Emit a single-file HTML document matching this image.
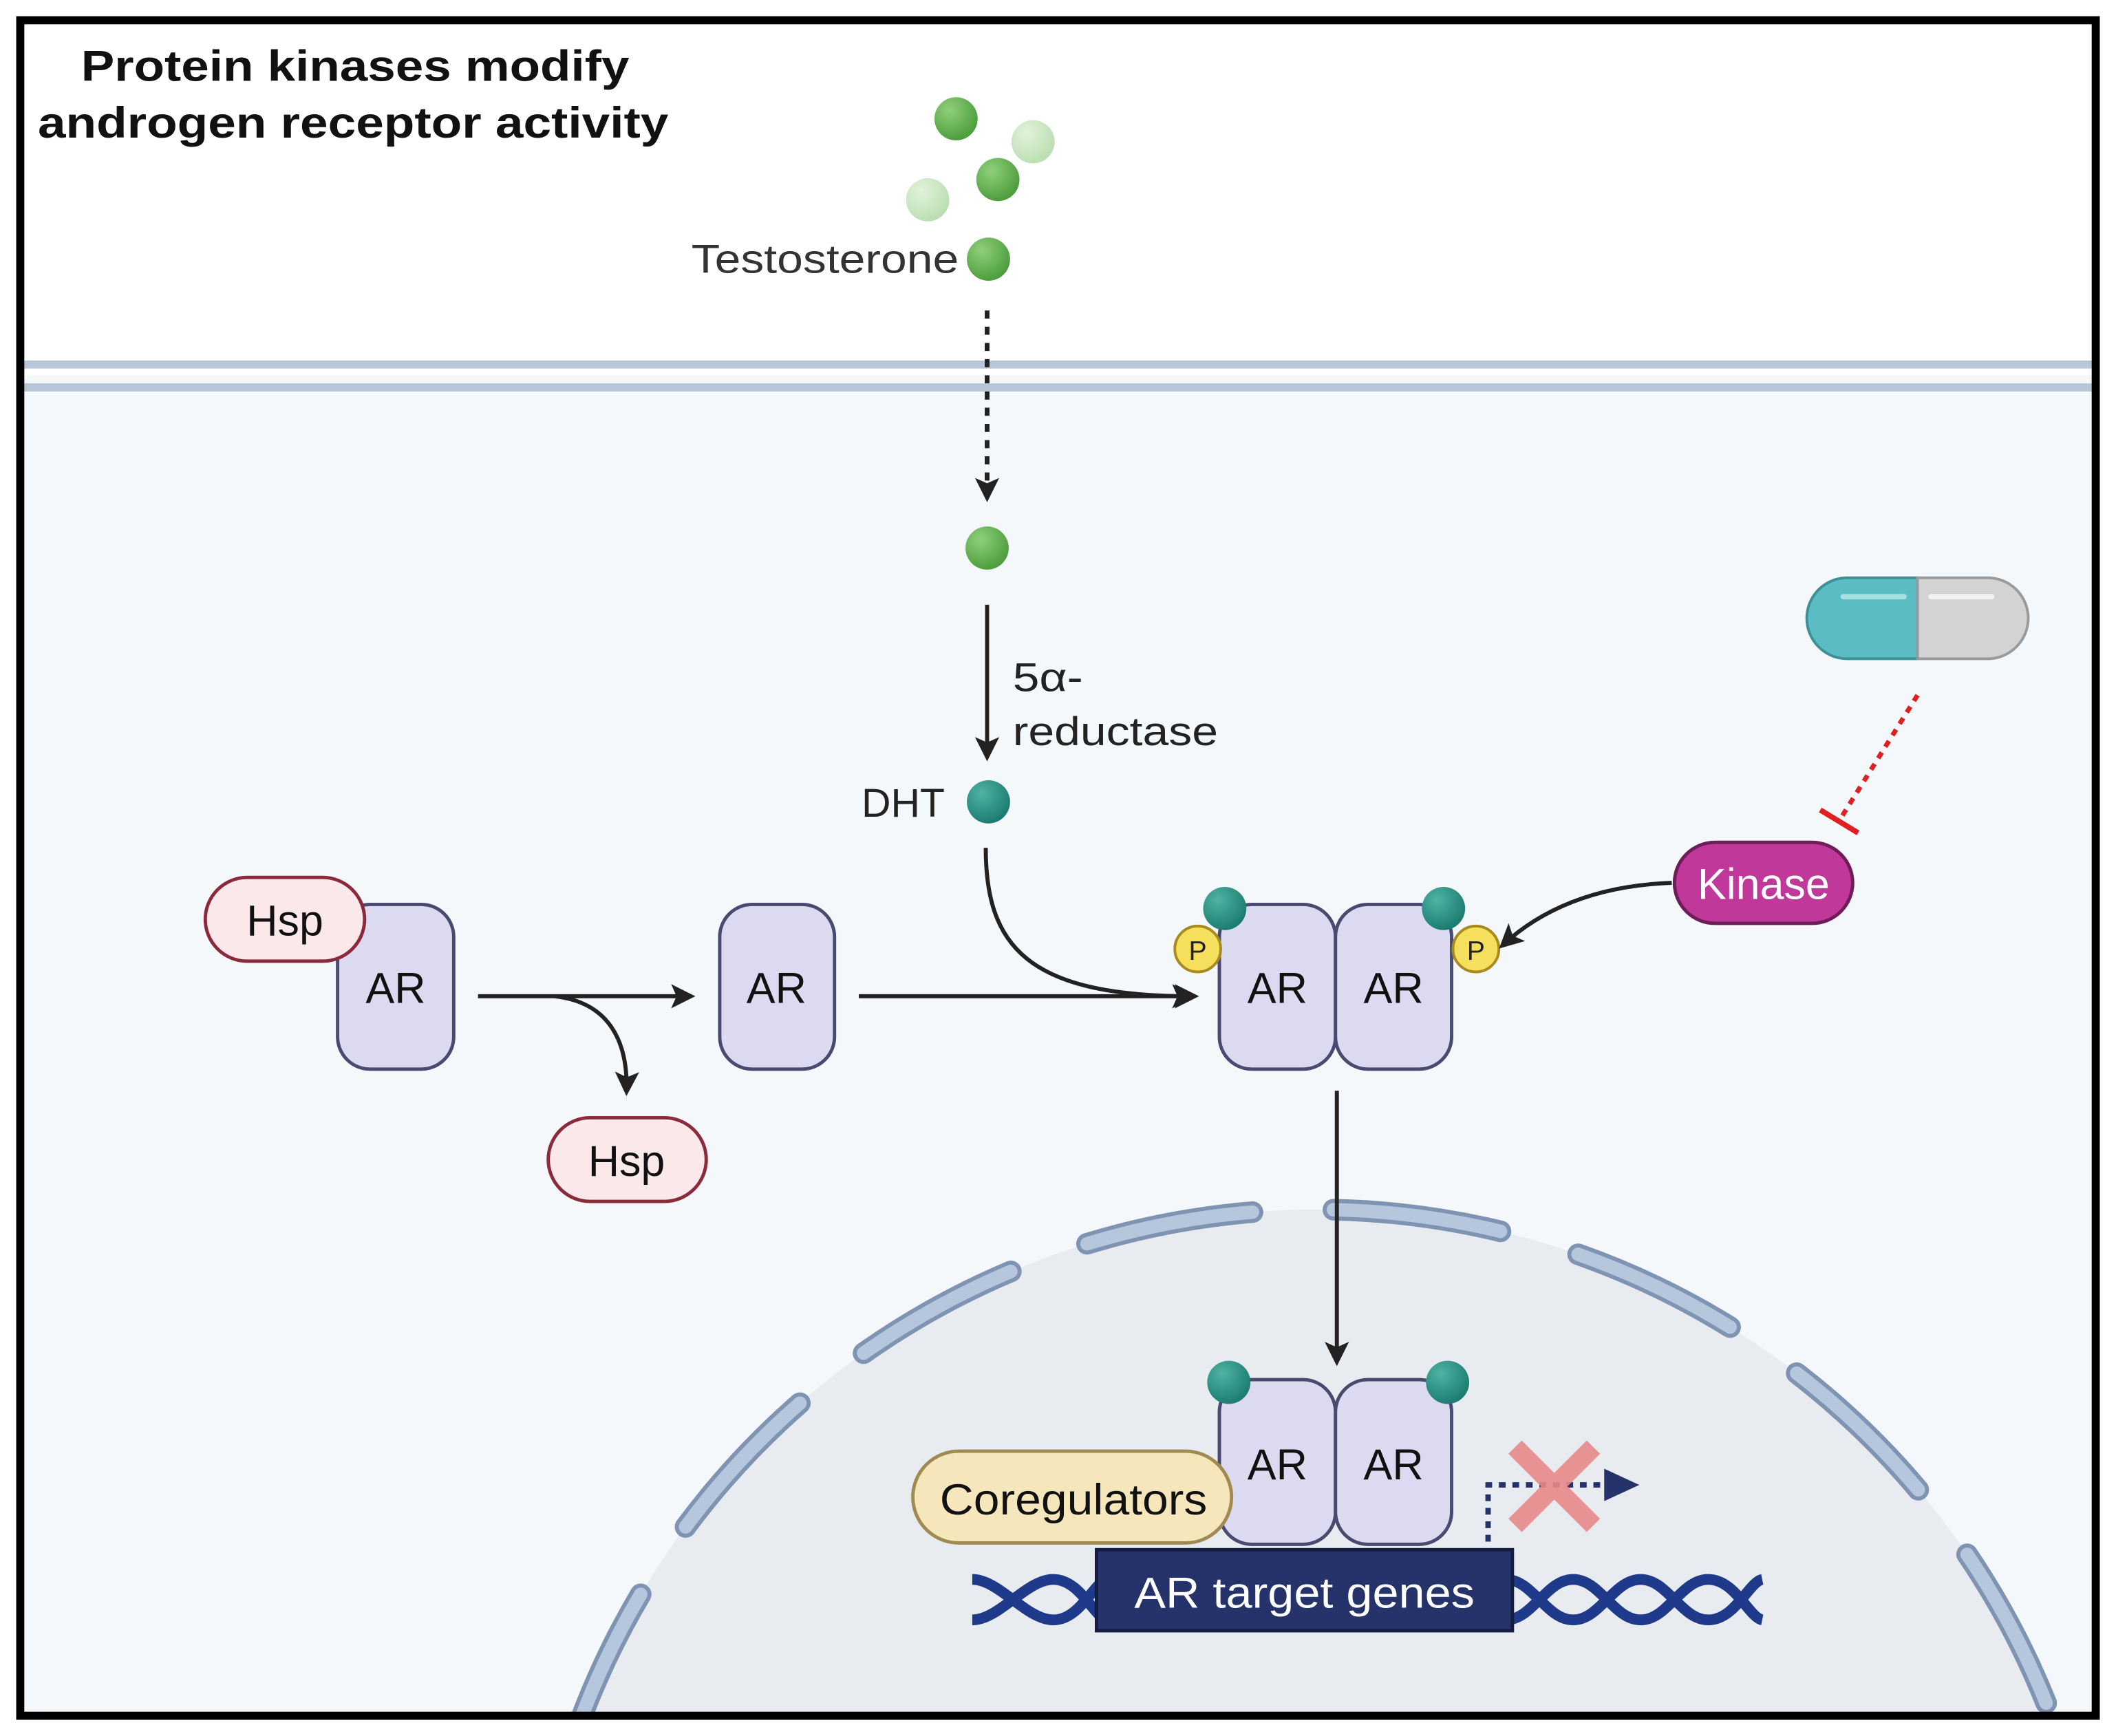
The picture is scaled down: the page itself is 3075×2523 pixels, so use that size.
<!DOCTYPE html>
<html><head><meta charset="utf-8"><style>
html,body{margin:0;padding:0;background:#fff;width:3075px;height:2523px;overflow:hidden}
svg{display:block}
text{font-family:"Liberation Sans",sans-serif}
</style></head><body>
<svg width="3075" height="2523" viewBox="0 0 1567 1286" preserveAspectRatio="none" xmlns="http://www.w3.org/2000/svg">
<defs>
<marker id="ah2" markerWidth="18" markerHeight="18" refX="14" refY="9" orient="auto" markerUnits="userSpaceOnUse"><path d="M0,0 L18,9 L0,18 L4,9 Z" fill="#222"/></marker>
<radialGradient id="g" cx="35%" cy="30%" r="70%"><stop offset="0" stop-color="#8fd07a"/><stop offset="1" stop-color="#4e9e3e"/></radialGradient>
<radialGradient id="gf" cx="35%" cy="30%" r="70%"><stop offset="0" stop-color="#e2f2dc"/><stop offset="1" stop-color="#bcdfb2"/></radialGradient>
<radialGradient id="t" cx="35%" cy="30%" r="70%"><stop offset="0" stop-color="#4fb3a3"/><stop offset="1" stop-color="#1d7d72"/></radialGradient>
<clipPath id="c"><rect x="16" y="16" width="1535" height="1254"/></clipPath>
</defs>
<rect x="0" y="0" width="1567" height="1286" fill="#fff"/>
<rect x="16" y="278" width="1535" height="992" fill="#f4f8fb"/>
<line x1="16" y1="270" x2="1551" y2="270" stroke="#b7c7d8" stroke-width="6"/>
<line x1="16" y1="287" x2="1551" y2="287" stroke="#b7c7d8" stroke-width="6"/>
<g clip-path="url(#c)">
<circle cx="975" cy="1478" r="582" fill="#e8ebf0"/>
<circle cx="975" cy="1478" r="582" fill="none" stroke="#7f93b3" stroke-width="16" stroke-dasharray="125 60" stroke-linecap="round" stroke-dashoffset="20"/>
<circle cx="975" cy="1478" r="582" fill="none" stroke="#b5c6dd" stroke-width="10" stroke-dasharray="125 60" stroke-linecap="round" stroke-dashoffset="20"/>
</g>
<rect x="15" y="15" width="1537" height="1256" fill="none" stroke="#000" stroke-width="6"/>
<text x="60" y="60" font-size="32" font-weight="bold" fill="#111" textLength="406" lengthAdjust="spacingAndGlyphs">Protein kinases modify</text>
<text x="28" y="102" font-size="32" font-weight="bold" fill="#111" textLength="467" lengthAdjust="spacingAndGlyphs">androgen receptor activity</text>
<circle cx="708" cy="88" r="16" fill="url(#g)"/>
<circle cx="765" cy="105" r="16" fill="url(#gf)"/>
<circle cx="739" cy="133" r="16" fill="url(#g)"/>
<circle cx="687" cy="148" r="16" fill="url(#gf)"/>
<circle cx="732" cy="192" r="16" fill="url(#g)"/>
<text x="512" y="202" font-size="30" fill="#333" textLength="198" lengthAdjust="spacingAndGlyphs">Testosterone</text>
<line x1="731" y1="230" x2="731" y2="368" stroke="#222" stroke-width="3.5" stroke-dasharray="6 6" marker-end="url(#ah2)"/>
<circle cx="731" cy="406" r="16" fill="url(#g)"/>
<line x1="731" y1="448" x2="731" y2="560" stroke="#222" stroke-width="3" marker-end="url(#ah2)"/>
<text x="750" y="512" font-size="30" fill="#222" textLength="52" lengthAdjust="spacingAndGlyphs">5α-</text>
<text x="750" y="552" font-size="30" fill="#222" textLength="152" lengthAdjust="spacingAndGlyphs">reductase</text>
<text x="638" y="605" font-size="30" fill="#222">DHT</text>
<circle cx="732" cy="594" r="16" fill="url(#t)"/>
<path d="M730,628 C730,700 760,738 882,738" fill="none" stroke="#222" stroke-width="3" marker-end="url(#ah2)"/>
<line x1="354" y1="738" x2="511" y2="738" stroke="#222" stroke-width="3" marker-end="url(#ah2)"/>
<path d="M410,738 C450,742 465,770 464,808" fill="none" stroke="#222" stroke-width="3" marker-end="url(#ah2)"/>
<line x1="636" y1="738" x2="884" y2="738" stroke="#222" stroke-width="3" marker-end="url(#ah2)"/>
<g fill="#dcdaf0" stroke="#4a4a70" stroke-width="2.5">
<rect x="250" y="670" width="86" height="122" rx="24"/>
<rect x="533" y="670" width="85" height="122" rx="24"/>
<rect x="903" y="670" width="86" height="122" rx="24"/>
<rect x="989" y="670" width="86" height="122" rx="24"/>
<rect x="903" y="1022" width="86" height="122" rx="24"/>
<rect x="989" y="1022" width="86" height="122" rx="24"/>
</g>
<rect x="152" y="650" width="118" height="62" rx="31" fill="#fbe8ea" stroke="#8b2a3a" stroke-width="2.5"/>
<text x="211" y="693" font-size="32" fill="#111" text-anchor="middle">Hsp</text>
<rect x="406" y="828" width="117" height="62" rx="31" fill="#fbe8ea" stroke="#8b2a3a" stroke-width="2.5"/>
<text x="464" y="871" font-size="32" fill="#111" text-anchor="middle">Hsp</text>
<g font-size="32" fill="#111" text-anchor="middle">
<text x="293" y="743">AR</text><text x="575" y="743">AR</text>
<text x="946" y="743">AR</text><text x="1032" y="743">AR</text>
<text x="946" y="1096">AR</text><text x="1032" y="1096">AR</text>
</g>
<circle cx="907" cy="673" r="16" fill="url(#t)"/>
<circle cx="1069" cy="673" r="16" fill="url(#t)"/>
<circle cx="887" cy="703" r="17" fill="#f7df5e" stroke="#a88a20" stroke-width="2"/>
<circle cx="1093" cy="703" r="17" fill="#f7df5e" stroke="#a88a20" stroke-width="2"/>
<text x="887" y="711" font-size="20" fill="#222" text-anchor="middle">P</text>
<text x="1093" y="711" font-size="20" fill="#222" text-anchor="middle">P</text>
<path d="M1238,654 C1180,656 1140,675 1113,700" fill="none" stroke="#222" stroke-width="3" marker-end="url(#ah2)"/>
<rect x="1240" y="624" width="132" height="60" rx="30" fill="#c0399a" stroke="#6e1d58" stroke-width="2.5"/>
<text x="1306" y="666" font-size="32" fill="#fff" text-anchor="middle">Kinase</text>
<path d="M1368,428 H1420 V488 H1368 A30,30 0 0 1 1368,428 Z" fill="#5bbcc4" stroke="#3f8f96" stroke-width="2"/>
<path d="M1420,428 H1472 A30,30 0 0 1 1472,488 H1420 Z" fill="#d3d3d3" stroke="#9a9a9a" stroke-width="2"/>
<line x1="1365" y1="442" x2="1410" y2="442" stroke="#a8e0e4" stroke-width="4" stroke-linecap="round"/>
<line x1="1430" y1="442" x2="1475" y2="442" stroke="#f2f2f2" stroke-width="4" stroke-linecap="round"/>
<line x1="1420" y1="515" x2="1362" y2="608" stroke="#e02020" stroke-width="3.5" stroke-dasharray="5 5"/>
<line x1="1348" y1="600" x2="1376" y2="617" stroke="#e02020" stroke-width="4"/>
<line x1="990" y1="808" x2="990" y2="1008" stroke="#222" stroke-width="3" marker-end="url(#ah2)"/>
<circle cx="910" cy="1024" r="16" fill="url(#t)"/>
<circle cx="1072" cy="1024" r="16" fill="url(#t)"/>
<rect x="676" y="1075" width="236" height="68" rx="34" fill="#f5e6bb" stroke="#a08a50" stroke-width="2.5"/>
<text x="696" y="1122" font-size="32" fill="#111" textLength="198" lengthAdjust="spacingAndGlyphs">Coregulators</text>
<g fill="none" stroke="#1f3a8a" stroke-width="8">
<path d="M720,1170 C740,1170 760,1200 780,1200 C800,1200 810,1172 820,1170"/>
<path d="M720,1200 C740,1200 760,1170 780,1170 C800,1170 810,1198 820,1200"/>
<path d="M1115,1170 C1135,1170 1145,1200 1165,1200 C1185,1200 1195,1170 1215,1170 C1235,1170 1245,1200 1265,1200 C1285,1200 1295,1172 1305,1170"/>
<path d="M1115,1200 C1135,1200 1145,1170 1165,1170 C1185,1170 1195,1200 1215,1200 C1235,1200 1245,1170 1265,1170 C1285,1170 1295,1198 1305,1200"/>
</g>
<rect x="812" y="1148" width="308" height="60" fill="#25336a" stroke="#141c40" stroke-width="2.5"/>
<text x="840" y="1191" font-size="32" fill="#fff" textLength="252" lengthAdjust="spacingAndGlyphs">AR target genes</text>
<path d="M1102,1142 V1100 H1190" fill="none" stroke="#25336a" stroke-width="4" stroke-dasharray="5 5"/>
<path d="M1188,1088 L1214,1100 L1188,1112 Z" fill="#25336a"/>
<g stroke="#e88a8a" stroke-width="14" opacity="0.9"><line x1="1122" y1="1072" x2="1180" y2="1130"/><line x1="1180" y1="1072" x2="1122" y2="1130"/></g>
</svg>
</body></html>
